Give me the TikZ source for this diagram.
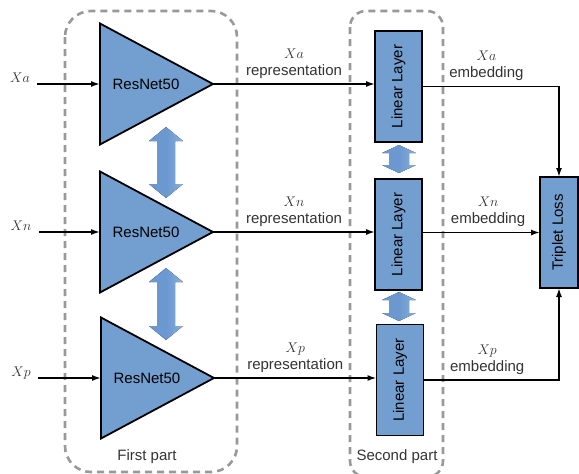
\RequirePackage{fix-cm}
\documentclass[tikz,border=0pt]{standalone}
\usepackage{fontspec}
\setmainfont{Liberation Sans}
\usetikzlibrary{positioning,arrows.meta,calc,shapes.geometric}
\definecolor{netblue}{HTML}{729FCF}
\definecolor{linkblue}{HTML}{6A98CF}
\definecolor{linklight}{HTML}{8AAFDC}
\definecolor{partgray}{HTML}{999999}
\definecolor{txtgray}{HTML}{333333}

\begin{document}
\begin{tikzpicture}[x=1pt,y=-1pt,font=\fontsize{15}{17}\selectfont,
  net/.style={draw=black,line width=1.8pt,fill=netblue,isosceles triangle,isosceles triangle stretches,
    shape border rotate=0,minimum height=113pt,minimum width=121pt,inner sep=0pt,outer sep=0pt,anchor=lower side},
  lin/.style={draw=black,line width=1.8pt,fill=netblue,minimum width=47pt,minimum height=111pt,inner sep=0pt,outer sep=0pt},
  share/.style={left color=linkblue,right color=linklight,middle color=linkblue},
  part/.style={draw=partgray,line width=2.6pt,dash pattern=on 7pt off 5pt},
  partlab/.style={text=txtgray},
  var/.style={font=\fontsize{14}{16}\selectfont,text=txtgray},
  lab/.style={align=center,text=txtgray,inner sep=1pt},
  wire/.style={-{Latex[length=9pt,width=6pt]},line width=1.6pt}]
\useasboundingbox (0,0) rectangle (579,474);
% the two parts of the network
\draw[part,rounded corners=26pt] (65,11) rectangle (237,472);
\node[partlab] (first) at (147,457) {First part};
\draw[part,rounded corners=16pt] (350,11) rectangle (443,477);
\node[partlab] (second) at (397,457) {Second part};
% shared ResNet50 branches
\node[net] (resa) at (100,84) {};
\node[net] (resn) at (100,232) {};
\node[net] (resp) at (101,378) {};
\node (resatxt) at (146,84) {ResNet50};
\node (resntxt) at (146,232) {ResNet50};
\node (resptxt) at (147,378) {ResNet50};
% weight sharing between the branches
\foreach \yt/\yb in {127/198,268/340}
  \fill[share] (166,\yt) -- (183,\yt+14) -- (175,\yt+14) -- (175,\yb-14) -- (183,\yb-14) -- (166,\yb)
    -- (149,\yb-14) -- (157,\yb-14) -- (157,\yt+14) -- (149,\yt+14) -- cycle;
% linear layers
\node[lin] (lina) at (398.5,86.5) {\rotatebox{90}{Linear Layer}};
\node[lin] (linn) at (398.5,234.5) {\rotatebox{90}{Linear Layer}};
\node[lin] (linp) at (400,380) {\rotatebox{90}{Linear Layer}};
\foreach \yt/\yb in {145/173,292/321}
  \fill[share] (399,\yt) -- (416,\yt+8) -- (409,\yt+8) -- (409,\yb-8) -- (416,\yb-8) -- (399,\yb)
    -- (382,\yb-8) -- (389,\yb-8) -- (389,\yt+8) -- (382,\yt+8) -- cycle;
% loss
\node[lin,minimum width=38pt] (loss) at (559,232.5) {\rotatebox{90}{Triplet Loss}};
% inputs
\node[var] (xa) at (20,78) {$Xa$};
\node[var] (xn) at (21,226) {$Xn$};
\node[var] (xp) at (21,373) {$Xp$};
\draw[wire] ([xshift=4pt]xa.east |- resa.lower side) -- (resa.lower side);
\draw[wire] ([xshift=4pt]xn.east |- resn.lower side) -- (resn.lower side);
\draw[wire] ([xshift=4pt]xp.east |- resp.lower side) -- (resp.lower side);
% representations
\draw[wire] (resa.apex) -- node[lab,above=4pt]{{\fontsize{14}{15}\selectfont$Xa$}\\representation} (resa.apex -| lina.west);
\draw[wire] (resn.apex) -- node[lab,above=4pt]{{\fontsize{14}{15}\selectfont$Xn$}\\representation} (resn.apex -| linn.west);
\draw[wire] (resp.apex) -- node[lab,above=4pt]{{\fontsize{14}{15}\selectfont$Xp$}\\representation} (resp.apex -| linp.west);
% embeddings into the loss
\draw[wire] (lina.east) -- node[lab,above=4pt,pos=0.47]{{\fontsize{14}{15}\selectfont$Xa$}\\embedding} (lina.east -| loss.north) -- (loss.north);
\draw[wire] (linn.east |- loss.west) -- node[lab,above=4pt,pos=0.56]{{\fontsize{14}{15}\selectfont$Xn$}\\embedding} (loss.west);
\draw[wire] (linp.east) -- node[lab,above=4pt,pos=0.47]{{\fontsize{14}{15}\selectfont$Xp$}\\embedding} (linp.east -| loss.south) -- (loss.south);
\end{tikzpicture}
\end{document}
